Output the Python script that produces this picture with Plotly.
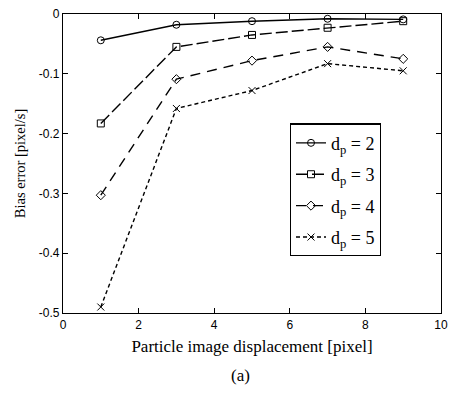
import plotly.graph_objects as go

displacement = [1, 3, 5, 7, 9]
bias_dp2 = [-0.044, -0.018, -0.012, -0.008, -0.009]
bias_dp3 = [-0.183, -0.055, -0.035, -0.023, -0.012]
bias_dp4 = [-0.303, -0.109, -0.078, -0.055, -0.075]
bias_dp5 = [-0.490, -0.158, -0.128, -0.083, -0.095]
series_names = ["d<sub>p</sub> = 2", "d<sub>p</sub> = 3", "d<sub>p</sub> = 4", "d<sub>p</sub> = 5"]
x_ticks = [0, 2, 4, 6, 8, 10]
y_ticks = [0, -0.1, -0.2, -0.3, -0.4, -0.5]
y_ticktext = ["0", "-0.1", "-0.2", "-0.3", "-0.4", "-0.5"]

series = [bias_dp2, bias_dp3, bias_dp4, bias_dp5]
dashes = ["solid", "12px,4px", "10px,7px", "4px,3px"]
symbols = ["circle-open", "square-open", "diamond-open", "x-thin-open"]

fig = go.Figure()
for i, (name, ys, d, s) in enumerate(zip(series_names, series, dashes, symbols)):
    fig.add_trace(go.Scatter(
        x=displacement, y=ys, name=name, mode="lines+markers", legendgroup=f"g{i}",
        line=dict(color="black", width=1.4, dash=d),
        marker=dict(symbol=s, size=7, color="black", line=dict(color="black", width=1)),
    ))

axis_common = dict(
    showline=True, linecolor="black", linewidth=1.2, mirror="ticks",
    ticks="inside", ticklen=5, tickcolor="black", tickwidth=1,
    showgrid=False, zeroline=False,
    tickfont=dict(family="Liberation Sans, Arial", size=12, color="black"),
)

fig.update_layout(
    width=455, height=394,
    margin=dict(l=63, r=7, t=10, b=81),
    paper_bgcolor="white", plot_bgcolor="white",
    font=dict(family="Liberation Serif, Times New Roman", color="black"),
    xaxis=dict(range=[0, 10], tickvals=x_ticks,
               title=dict(text="Particle image displacement [pixel]", standoff=9,
                          font=dict(family="Liberation Serif", size=17)),
               **axis_common),
    yaxis=dict(range=[-0.5, 0], tickvals=y_ticks, ticktext=y_ticktext,
               title=dict(text="Bias error [pixel/s]", standoff=9,
                          font=dict(family="Liberation Serif", size=14.5)),
               **axis_common),
    legend=dict(x=0.6, y=0.634, xanchor="left", yanchor="top",
                bordercolor="black", borderwidth=1.2, bgcolor="white",
                font=dict(family="Liberation Serif", size=18, color="black"),
                itemwidth=30, tracegroupgap=5),
    showlegend=True,
    hovermode=False,
    annotations=[dict(text="(a)", x=0.47, y=-0.172, xref="paper", yref="paper",
                      showarrow=False, xanchor="center", yanchor="top",
                      font=dict(family="Liberation Serif", size=17, color="black"))],
)

fig.write_html("out.html",
               config={"displayModeBar": False, "staticPlot": False},
               post_script="document.body.style.margin='0';document.body.style.overflow='hidden';")
